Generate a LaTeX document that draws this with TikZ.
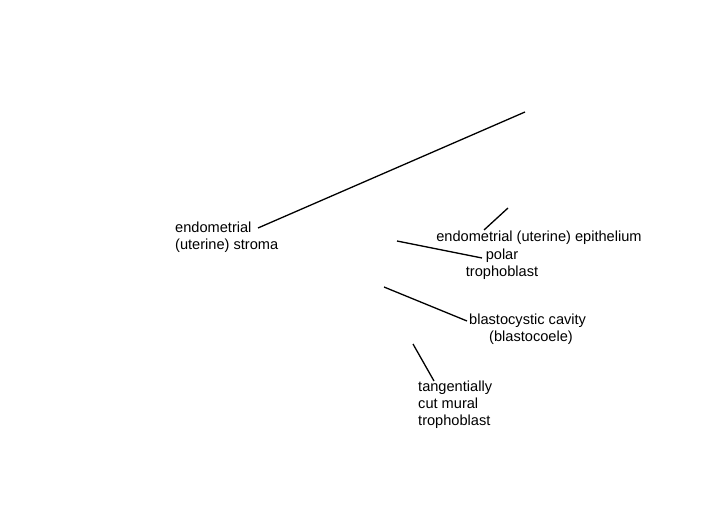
\documentclass[tikz,border=0pt]{standalone}
\usepackage{fontspec}
\setmainfont{Liberation Sans}
\begin{document}
\begin{tikzpicture}[x=1pt,y=-1pt,
  lbl/.style={inner sep=0pt, font=\fontsize{14.6}{17}\selectfont},
  lead/.style={draw=black, line width=1.3pt}]
\useasboundingbox[fill=white] (0,0) rectangle (702,510);
\node[lbl, align=left, anchor=west] (stroma) at (175,237.5) {endometrial\\(uterine) stroma};
\node[lbl, anchor=center] (epi) at (539,238) {endometrial (uterine) epithelium};
\node[lbl, align=center, anchor=center] (polar) at (502,264) {polar\\trophoblast};
\node[lbl, align=left, anchor=west] (cavity) at (469,329.5) {blastocystic cavity\\\hspace*{20pt}(blastocoele)};
\node[lbl, align=left, anchor=west] (mural) at (418,404.5) {tangentially\\cut mural\\trophoblast};
\coordinate (s1) at (258,228); \coordinate (s2) at (525,112);
\coordinate (e1) at (484,230); \coordinate (e2) at (508,208);
\coordinate (p1) at (482,258); \coordinate (p2) at (397,241);
\coordinate (c1) at (467,321); \coordinate (c2) at (384,287);
\coordinate (m1) at (434,381); \coordinate (m2) at (413,344);
\draw[lead] (s1) -- (s2);
\draw[lead] (e1) -- (e2);
\draw[lead] (p1) -- (p2);
\draw[lead] (c1) -- (c2);
\draw[lead] (m1) -- (m2);
\end{tikzpicture}
\end{document}
